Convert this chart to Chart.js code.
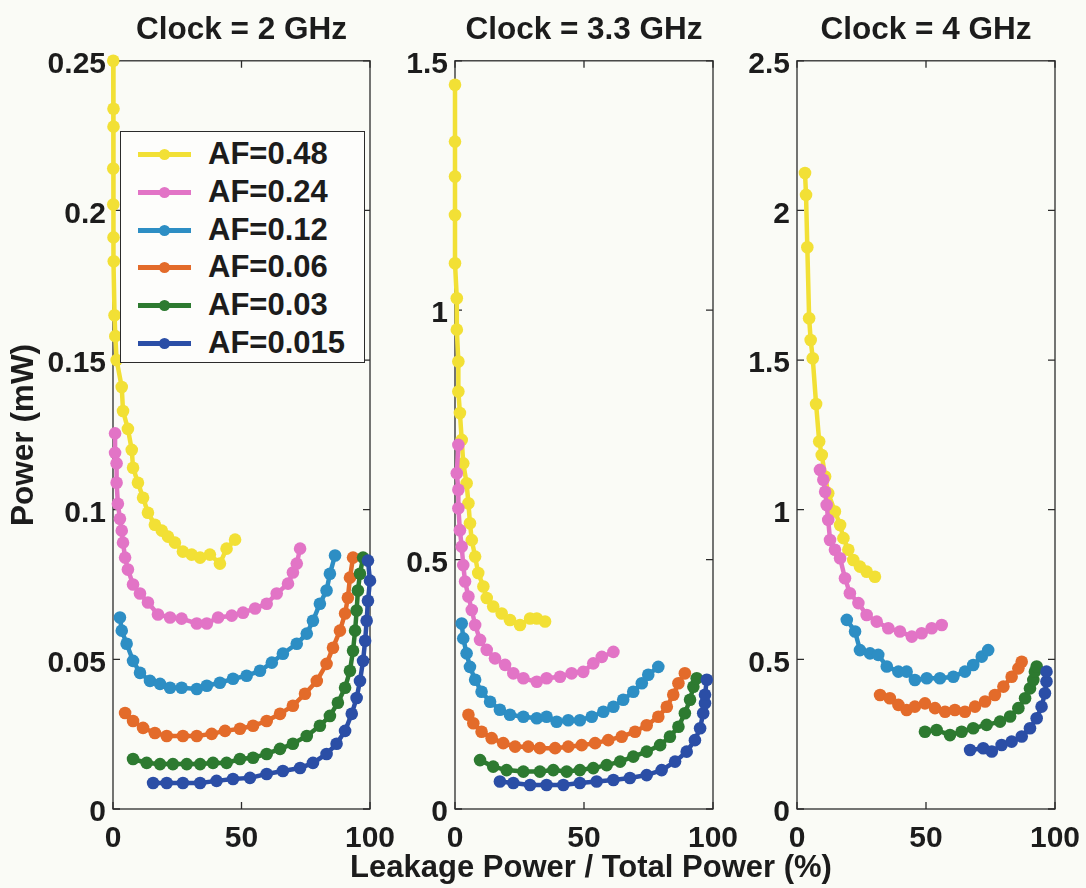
<!DOCTYPE html>
<html>
<head>
<meta charset="utf-8">
<script src="https://cdn.jsdelivr.net/npm/chart.js@4.4.1/dist/chart.umd.min.js"></script>
<style>
  html, body { margin: 0; padding: 0; }
  body {
    width: 1086px; height: 888px; position: relative; overflow: hidden;
    background: #fafbf6;
    font-family: 'Liberation Sans', Arial, sans-serif; font-weight: bold; color: #1c1c1c;
  }
  canvas { position: absolute; top: 0; }
  #xtitle {
    position: absolute; left: 0; width: 1182px; top: 852px;
    text-align: center; font-size: 31px; line-height: 30px; white-space: nowrap;
  }
  #legend {
    position: absolute; left: 120px; top: 131px; width: 243px; height: 230px;
    background: #fdfdfb; border: 1.3px solid #2b2b2b;
  }
  .row { position: absolute; left: 0; height: 38px; width: 243px; }
  .sample { position: absolute; left: 17px; top: 17px; width: 53px; height: 5px; }
  .dot { position: absolute; left: 21px; top: -3px; width: 11px; height: 11px; border-radius: 50%; }
  .lbl { position: absolute; left: 87px; top: 3px; font-size: 31px; line-height: 32px; white-space: nowrap; }
</style>
</head>
<body>
<canvas id="c1" width="420" height="888" style="left:0px"></canvas>
<canvas id="c2" width="373" height="888" style="left:390px"></canvas>
<canvas id="c3" width="353" height="888" style="left:733px"></canvas>
<div id="legend"></div>
<div id="xtitle">Leakage Power / Total Power (%)</div>
<script>
// titles, series names, colours
const clockTitles = ['Clock = 2 GHz', 'Clock = 3.3 GHz', 'Clock = 4 GHz'];
const afLabels = ['AF=0.48', 'AF=0.24', 'AF=0.12', 'AF=0.06', 'AF=0.03', 'AF=0.015'];
const afColors = ['#f2e035', '#e274c6', '#2d8ec4', '#e36b2a', '#2d7a30', '#2b4ea6'];
const yMax = [0.25, 1.5, 2.5];
const yStep = [0.05, 0.5, 0.5];
const xTickStep = 50;

// Clock = 2 GHz  [leakage %, power mW]
const clk2_af48 = [[0.1,0.250],[0.2,0.234],[0.2,0.228],[0.1,0.214],[0.1,0.202],[0.2,0.191],[0.3,0.183],[0.6,0.165],[0.9,0.158],[1.4,0.150],[3.4,0.141],[3.9,0.133],[5.8,0.127],[7.3,0.120],[7.8,0.114],[9.7,0.109],[11.7,0.104],[13.6,0.099],[16.3,0.095],[19.0,0.093],[21.4,0.091],[24.1,0.089],[27.2,0.086],[30.6,0.085],[33.9,0.084],[37.7,0.085],[41.6,0.082],[44.2,0.087],[47.5,0.090]];
const clk2_af24 = [[0.8,0.1255],[0.8,0.119],[1.4,0.1155],[1.4,0.109],[1.9,0.102],[2.7,0.097],[3.4,0.093],[3.9,0.089],[4.7,0.084],[5.8,0.080],[7.8,0.075],[10.5,0.072],[13.6,0.069],[17.5,0.065],[22.2,0.064],[26.7,0.0636],[32.6,0.062],[36.5,0.062],[40.9,0.064],[46.2,0.0646],[50.6,0.0656],[55.3,0.067],[59.8,0.0686],[63.7,0.072],[68.1,0.0753],[70.0,0.079],[71.5,0.082],[72.8,0.087]];
const clk2_af12 = [[2.7,0.064],[3.4,0.0596],[5.3,0.0552],[7.8,0.0495],[10.5,0.0455],[14.4,0.0428],[18.3,0.0418],[22.2,0.0405],[26.7,0.0405],[32.6,0.0401],[36.5,0.0412],[41.6,0.0422],[46.7,0.0435],[52.0,0.0445],[57.2,0.0462],[61.8,0.0489],[66.1,0.0519],[71.5,0.0552],[75.4,0.0586],[77.8,0.0629],[80.5,0.0686],[83.1,0.073],[84.4,0.0786],[86.4,0.0847]];
const clk2_af06 = [[4.7,0.0321],[7.8,0.0294],[11.7,0.0271],[16.3,0.0254],[20.9,0.0244],[27.2,0.0244],[32.6,0.0244],[38.4,0.0251],[43.6,0.0261],[49.4,0.0268],[54.5,0.0278],[59.8,0.0294],[65.0,0.0318],[70.0,0.0345],[74.7,0.0385],[79.3,0.0428],[83.1,0.0485],[85.6,0.0539],[88.3,0.0596],[90.3,0.0653],[91.4,0.0706],[92.2,0.0773],[93.4,0.084]];
const clk2_af03 = [[7.8,0.0167],[13.1,0.0154],[18.3,0.015],[23.3,0.015],[28.7,0.015],[33.9,0.015],[38.9,0.0154],[44.2,0.0154],[49.4,0.0167],[54.5,0.0171],[59.8,0.0184],[65.0,0.0201],[70.0,0.0218],[75.4,0.0244],[80.5,0.0278],[84.4,0.0311],[87.5,0.0355],[90.3,0.0405],[92.2,0.0462],[93.4,0.0529],[94.2,0.0596],[94.8,0.0663],[95.3,0.073],[96.1,0.0786],[97.3,0.084]];
const clk2_af015 = [[15.6,0.0087],[20.9,0.0087],[27.2,0.0087],[33.9,0.0087],[40.3,0.0094],[46.7,0.010],[53.3,0.0104],[59.8,0.0117],[66.1,0.0127],[72.8,0.0137],[77.8,0.0154],[83.1,0.0184],[87.0,0.0218],[90.3,0.0261],[92.9,0.0318],[94.8,0.0371],[96.1,0.0428],[97.3,0.0495],[98.1,0.0562],[98.7,0.0629],[99.2,0.0696],[100,0.0763],[99.2,0.083]];

// Clock = 3.3 GHz
const clk33_af48 = [[0,1.452],[0,1.338],[0,1.268],[0,1.191],[0,1.094],[0.7,1.024],[0.7,0.961],[1.3,0.897],[1.3,0.837],[1.9,0.794],[2.6,0.740],[3.2,0.693],[4.5,0.653],[5.2,0.613],[5.8,0.573],[6.5,0.539],[7.8,0.506],[9.0,0.473],[11.0,0.446],[12.3,0.423],[14.8,0.406],[18.1,0.392],[21.3,0.379],[25.2,0.369],[29.1,0.382],[31.7,0.382],[34.9,0.376]];
const clk33_af24 = [[1.3,0.73],[0.7,0.673],[1.3,0.64],[1.3,0.603],[1.9,0.559],[2.6,0.526],[3.2,0.489],[3.9,0.456],[5.2,0.426],[6.5,0.399],[7.8,0.369],[9.7,0.339],[12.3,0.319],[15.5,0.302],[19.4,0.289],[22.6,0.272],[26.5,0.262],[31.7,0.255],[35.5,0.262],[40.7,0.265],[45.2,0.272],[49.7,0.275],[53.6,0.292],[56.9,0.305],[61.4,0.315]];
const clk33_af12 = [[2.6,0.372],[3.2,0.342],[4.5,0.312],[5.8,0.285],[7.8,0.259],[10.3,0.235],[13.6,0.215],[17.4,0.199],[21.3,0.189],[26.5,0.185],[31.7,0.182],[35.5,0.185],[39.4,0.175],[43.9,0.178],[48.4,0.178],[53.0,0.185],[57.5,0.195],[61.4,0.205],[65.2,0.219],[69.1,0.235],[72.4,0.252],[74.9,0.269],[78.8,0.285]];
const clk33_af06 = [[5.2,0.189],[7.1,0.172],[10.3,0.155],[14.2,0.142],[18.7,0.132],[23.3,0.125],[28.4,0.125],[32.9,0.122],[38.8,0.122],[43.9,0.125],[49.1,0.128],[54.3,0.132],[59.4,0.138],[64.6,0.145],[69.8,0.155],[74.3,0.168],[78.8,0.185],[82.1,0.205],[84.6,0.229],[86.6,0.252],[89.1,0.272]];
const clk33_af03 = [[9.7,0.098],[14.8,0.085],[20.0,0.078],[26.5,0.075],[32.9,0.075],[38.1,0.078],[43.3,0.075],[48.4,0.078],[53.6,0.082],[58.8,0.088],[64.0,0.095],[69.1,0.105],[74.3,0.115],[79.5,0.128],[83.3,0.145],[86.6,0.165],[89.1,0.192],[91.1,0.219],[92.4,0.245],[93.7,0.262]];
const clk33_af015 = [[17.4,0.055],[22.6,0.052],[29.1,0.048],[35.5,0.048],[42.0,0.048],[48.4,0.052],[54.9,0.055],[61.4,0.058],[67.8,0.062],[74.3,0.068],[80.1,0.078],[85.3,0.095],[89.8,0.115],[93.0,0.138],[95.0,0.162],[96.2,0.192],[96.9,0.212],[96.9,0.229],[97.6,0.259]];

// Clock = 4 GHz
const clk4_af48 = [[3.1,2.125],[3.5,2.052],[4.0,1.877],[4.7,1.64],[5.3,1.567],[6.1,1.506],[7.4,1.353],[8.6,1.228],[9.6,1.183],[10.9,1.111],[12.1,1.055],[14.7,0.994],[16.7,0.949],[18.0,0.905],[19.9,0.866],[21.8,0.832],[24.4,0.81],[27.0,0.793],[30.2,0.776]];
const clk4_af24 = [[8.9,1.133],[10.2,1.1],[10.9,1.06],[11.5,1.016],[12.1,0.966],[12.8,0.899],[14.7,0.866],[16.7,0.838],[18.6,0.771],[20.5,0.721],[23.8,0.688],[27.0,0.648],[30.9,0.626],[35.4,0.604],[39.9,0.593],[44.5,0.576],[48.3,0.587],[52.2,0.604],[56.1,0.615]];
const clk4_af12 = [[19.3,0.632],[22.5,0.593],[24.4,0.531],[28.3,0.52],[31.5,0.515],[34.8,0.476],[39.3,0.459],[42.5,0.459],[45.7,0.431],[50.3,0.437],[55.4,0.437],[60.6,0.442],[65.1,0.459],[68.3,0.481],[71.6,0.509],[74.1,0.531]];
const clk4_af06 = [[32.2,0.381],[36.0,0.37],[39.3,0.348],[42.5,0.331],[45.7,0.342],[49.6,0.353],[53.5,0.337],[57.4,0.325],[61.2,0.331],[65.1,0.325],[69.0,0.342],[72.9,0.359],[76.7,0.381],[80.0,0.409],[83.2,0.442],[85.8,0.47],[87.1,0.492]];
const clk4_af03 = [[49.6,0.258],[54.1,0.264],[59.3,0.247],[63.8,0.258],[68.3,0.27],[73.5,0.281],[78.7,0.292],[82.6,0.309],[85.8,0.337],[88.4,0.37],[90.3,0.403],[91.6,0.431],[92.2,0.459],[92.9,0.476]];
const clk4_af015 = [[67.1,0.197],[72.2,0.203],[75.5,0.192],[79.3,0.214],[83.2,0.225],[87.1,0.242],[90.3,0.27],[92.9,0.303],[94.8,0.342],[96.1,0.387],[96.7,0.426],[96.7,0.459]];

const panelSeries = [
  [clk2_af48, clk2_af24, clk2_af12, clk2_af06, clk2_af03, clk2_af015],
  [clk33_af48, clk33_af24, clk33_af12, clk33_af06, clk33_af03, clk33_af015],
  [clk4_af48, clk4_af24, clk4_af12, clk4_af06, clk4_af03, clk4_af015]
];

// canvas layout: width of y axis area, right padding (canvases overlap, they are transparent)
const layouts = [
  { id: 'c1', axisW: 113, padRight: 50 },
  { id: 'c2', axisW: 65, padRight: 50 },
  { id: 'c3', axisW: 64, padRight: 31 }
];

Chart.defaults.font.family = "'Liberation Sans', Arial, sans-serif";
Chart.defaults.font.weight = 'bold';
Chart.defaults.color = '#1c1c1c';

// box round the plot with inward ticks, matlab style
const framePlugin = {
  id: 'frame',
  beforeDatasetsDraw(chart) {
    const ctx = chart.ctx;
    const a = chart.chartArea;
    const x = chart.scales.x, y = chart.scales.y;
    ctx.save();
    ctx.strokeStyle = '#2b2b2b';
    ctx.lineWidth = 1.3;
    ctx.strokeRect(a.left, a.top, a.right - a.left, a.bottom - a.top);
    ctx.beginPath();
    y.ticks.forEach(t => {
      const p = y.getPixelForValue(t.value);
      ctx.moveTo(a.left, p); ctx.lineTo(a.left + 7, p);
      ctx.moveTo(a.right, p); ctx.lineTo(a.right - 7, p);
    });
    x.ticks.forEach(t => {
      const p = x.getPixelForValue(t.value);
      ctx.moveTo(p, a.bottom); ctx.lineTo(p, a.bottom - 7);
      ctx.moveTo(p, a.top); ctx.lineTo(p, a.top + 7);
    });
    ctx.stroke();
    ctx.restore();
  }
};

const fmt = v => String(parseFloat(v.toFixed(4)));

const charts = [];
layouts.forEach((lay, i) => {
  const datasets = panelSeries[i].map((pts, k) => ({
    label: afLabels[k],
    data: pts.map(p => ({ x: p[0], y: p[1] })),
    borderColor: afColors[k],
    backgroundColor: afColors[k],
    pointBackgroundColor: afColors[k],
    pointBorderWidth: 0,
    pointRadius: 6.3,
    borderWidth: 4.5,
    tension: 0,
    clip: false,
    order: afLabels.length - k
  }));

  const c = new Chart(document.getElementById(lay.id), {
    type: 'line',
    data: { datasets: datasets },
    options: {
      responsive: false,
      animation: false,
      devicePixelRatio: 1,
      layout: { padding: { left: 0, right: lay.padRight, top: 0, bottom: 0 } },
      plugins: {
        legend: { display: false },
        tooltip: { enabled: false },
        title: {
          display: true,
          text: clockTitles[i],
          fullSize: false,
          font: { size: 31.5, weight: 'bold' },
          padding: { top: 11, bottom: 12 },
          color: '#1c1c1c'
        }
      },
      scales: {
        x: {
          type: 'linear',
          min: 0, max: 100,
          grid: { display: false, drawTicks: false, tickLength: 0 },
          border: { display: false },
          ticks: { stepSize: xTickStep, autoSkip: false, maxRotation: 0, padding: 12,
                   font: { size: 30, weight: 'bold' }, callback: fmt },
          afterFit: s => { s.height = 79; s.paddingLeft = 0; s.paddingRight = 0; }
        },
        y: {
          min: 0, max: yMax[i],
          grid: { display: false, drawTicks: false, tickLength: 0 },
          border: { display: false },
          ticks: { stepSize: yStep[i], padding: 7, labelOffset: 4,
                   font: { size: 30, weight: 'bold' }, callback: fmt },
          title: {
            display: i === 0,
            text: 'Power (mW)',
            font: { size: 31.5, weight: 'bold' },
            padding: { top: 5, bottom: 0 }
          },
          afterFit: s => { s.width = lay.axisW; s.paddingTop = 0; s.paddingBottom = 0; }
        }
      }
    },
    plugins: [framePlugin]
  });
  charts.push(c);
});

// legend box inside the first panel, built from the dataset styles
const legend = document.getElementById('legend');
charts[0].data.datasets.forEach((ds, k) => {
  const row = document.createElement('div');
  row.className = 'row';
  row.style.top = (3 + k * 37.8) + 'px';
  const sample = document.createElement('div');
  sample.className = 'sample';
  sample.style.background = ds.borderColor;
  const dot = document.createElement('div');
  dot.className = 'dot';
  dot.style.background = ds.borderColor;
  sample.appendChild(dot);
  const lbl = document.createElement('div');
  lbl.className = 'lbl';
  lbl.textContent = ds.label;
  row.appendChild(sample);
  row.appendChild(lbl);
  legend.appendChild(row);
});
</script>
</body>
</html>
